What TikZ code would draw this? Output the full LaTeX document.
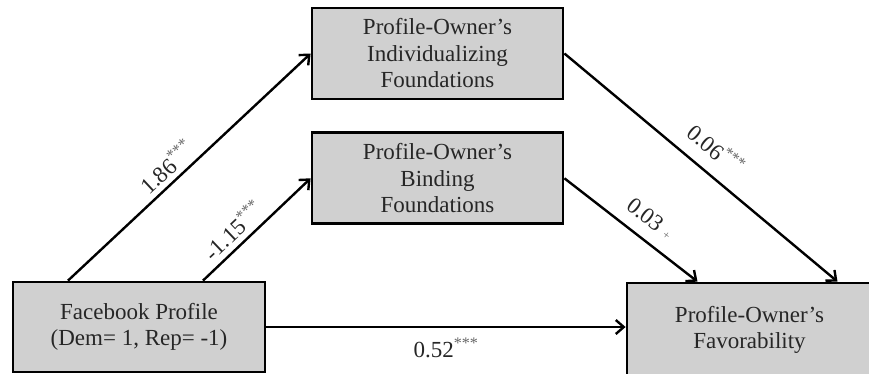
\documentclass[tikz,border=0pt]{standalone}
\usepackage{fontspec}
\setmainfont{Liberation Serif}
\usepackage{tikz}
\usetikzlibrary{arrows.meta}
\usetikzlibrary{positioning}

\definecolor{boxgray}{RGB}{208,208,208}
\newcommand{\sigmark}[1]{\textsuperscript{\textcolor{black!60}{#1}}}

\begin{document}
\begin{tikzpicture}[x=1pt, y=-1pt,
        box/.style={rectangle, draw=black, fill=boxgray, line width=2.8pt, align=center, text=black!85, inner sep=0pt, font=\fontsize{23}{26.5}\selectfont},
        path/.style={->, line width=2.4pt, >={Straight Barb[length=8pt,width=14pt]}},
        coef/.style={sloped, above, inner sep=5pt, text=black!85, font=\fontsize{23}{26}\selectfont}
      ]
        \clip (0,0) rectangle (869,373);

        \node[box, minimum width=251pt, minimum height=91pt]  (indiv)    at (437.5,53.5)  {Profile-Owner’s\\Individualizing\\Foundations};
        \node[box, minimum width=251pt, minimum height=91pt]  (binding)  [below=31pt of indiv]  {Profile-Owner’s\\Binding\\Foundations};
        \node[box, minimum width=252pt, minimum height=90pt]  (fb)       at (139,327)     {Facebook Profile\\(Dem= 1, Rep= -1)};
        \node[box, minimum width=245pt, minimum height=94pt]  (fav)      at (749.5,330)   {Profile-Owner’s\\Favorability};

        \draw[path]  ([xshift=-71pt]fb.north) -- (indiv.west)  node[coef, pos=0.45] {1.86\sigmark{***}};
        \draw[path]  ([xshift=64pt]fb.north) -- (binding.west)  node[coef, pos=0.38] {-1.15\sigmark{***}};
        \draw[path]  (indiv.east) -- ([xshift=88pt]fav.north)  node[coef, pos=0.5, above=8pt] {0.06\sigmark{***}};
        \draw[path]  (binding.east) -- ([xshift=-52pt]fav.north)  node[coef, pos=0.55, above=7pt] {0.03 {\fontsize{12}{12}\selectfont\textcolor{black!60}{+}}};
        \draw[path]  (fb.east) -- (fb.east -| fav.west)  node[midway, below=6pt, text=black!85, font=\fontsize{23}{26}\selectfont] {0.52\sigmark{***}};
      \end{tikzpicture}
\end{document}
